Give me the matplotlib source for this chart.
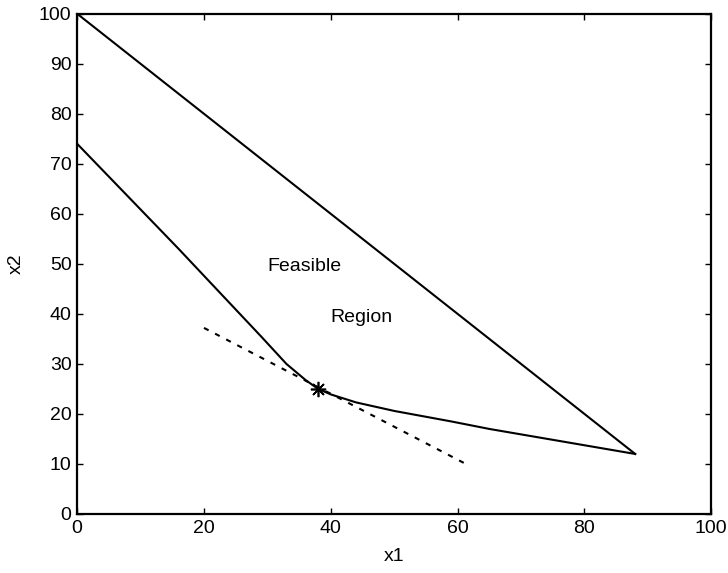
import matplotlib.pyplot as plt

plt.rcParams['font.family'] = ['Liberation Sans', 'DejaVu Sans']

# upper constraint boundary
upper_x1 = [0, 88]
upper_x2 = [100, 12]

# lower constraint boundary
lower_x1 = [0, 16, 29, 33, 36, 38, 40, 44, 50, 59, 65, 88]
lower_x2 = [74, 53, 35.5, 30, 26.8, 25, 23.9, 22.3, 20.6, 18.5, 17.0, 12]

# objective contour through the optimum
contour_x1 = [20, 61]
contour_x2 = [37.2, 10.2]

# optimum point
opt_x1 = [38]
opt_x2 = [25]

fig = plt.figure(figsize=(7.28, 5.73), dpi=100)
ax = fig.add_axes([0.106, 0.103, 0.871, 0.873])

ax.plot(upper_x1, upper_x2, color='black', linewidth=1.5)
ax.plot(lower_x1, lower_x2, color='black', linewidth=1.5)
ax.plot(contour_x1, contour_x2, color='black', linewidth=1.5, linestyle=(0, (2.5, 3.5)))
ax.plot(opt_x1, opt_x2, linestyle='none', marker=(8, 2, 0), markersize=11,
        markeredgecolor='black', markeredgewidth=1.2)

ax.text(30, 48.6, 'Feasible', fontsize=14)
ax.text(40, 38.4, 'Region', fontsize=14)

ax.set_xlim(0, 100)
ax.set_ylim(0, 100)
ax.set_xticks(range(0, 101, 20))
ax.set_yticks(range(0, 101, 10))
ax.tick_params(direction='in', top=True, right=True, length=4, width=1,
               labelsize=14, pad=4)
for side in ax.spines.values():
    side.set_linewidth(1.6)

ax.set_xlabel('x1', fontsize=14, labelpad=8)
ax.set_ylabel('x2', fontsize=14, labelpad=10)

fig.savefig('out.png', dpi=100)
